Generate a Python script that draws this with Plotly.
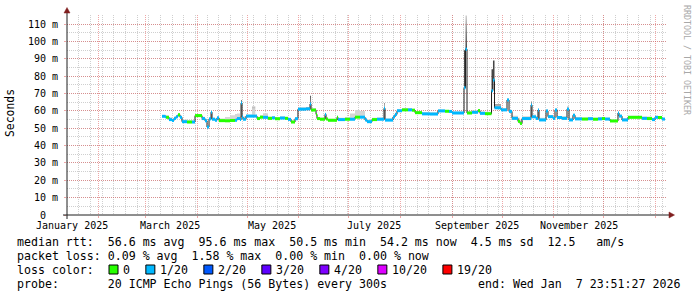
import plotly.graph_objects as go

# ---------------- data ----------------
times = [
    "2025-03-11 00:00", "2025-03-12 19:00", "2025-03-13 10:00", "2025-03-15 05:00", "2025-03-17 00:00",
    "2025-03-18 05:00", "2025-03-19 10:00", "2025-03-20 14:00", "2025-03-21 19:00", "2025-03-23 00:00",
    "2025-03-26 00:00", "2025-03-29 00:00", "2025-03-30 19:00", "2025-04-04 00:00", "2025-04-05 19:00",
    "2025-04-07 00:00", "2025-04-08 05:00", "2025-04-09 10:00", "2025-04-10 00:00", "2025-04-11 19:00",
    "2025-04-13 00:00", "2025-04-14 05:00", "2025-04-17 19:00", "2025-04-20 19:00", "2025-04-23 19:00",
    "2025-04-25 00:00", "2025-04-26 19:00", "2025-04-27 10:00", "2025-04-28 00:00", "2025-04-28 14:00",
    "2025-04-30 10:00", "2025-05-04 00:00", "2025-05-06 00:00", "2025-05-07 00:00", "2025-05-08 19:00",
    "2025-05-10 14:00", "2025-05-13 14:00", "2025-05-16 00:00", "2025-05-17 19:00", "2025-05-20 19:00",
    "2025-05-23 19:00", "2025-05-25 14:00", "2025-05-27 10:00", "2025-05-29 19:00", "2025-05-31 14:00",
    "2025-06-05 10:00", "2025-06-07 19:00", "2025-06-08 10:00", "2025-06-11 10:00", "2025-06-12 00:00",
    "2025-06-13 19:00", "2025-06-16 19:00", "2025-06-17 10:00", "2025-06-18 14:00", "2025-06-24 00:00",
    "2025-06-24 14:00", "2025-06-28 19:00", "2025-07-01 19:00", "2025-07-04 19:00", "2025-07-07 19:00",
    "2025-07-10 19:00", "2025-07-12 00:00", "2025-07-15 00:00", "2025-07-18 00:00", "2025-07-22 05:00",
    "2025-07-22 19:00", "2025-07-27 14:00", "2025-07-28 19:00", "2025-07-30 00:00", "2025-08-02 00:00",
    "2025-08-05 14:00", "2025-08-08 00:00", "2025-08-09 19:00", "2025-08-14 00:00", "2025-08-18 19:00",
    "2025-08-23 14:00", "2025-08-27 19:00", "2025-08-30 05:00", "2025-09-01 00:00", "2025-09-08 05:00",
    "2025-09-09 02:00", "2025-09-10 00:00", "2025-09-13 00:00", "2025-09-16 14:00", "2025-09-17 19:00",
    "2025-09-20 19:00", "2025-09-24 17:00", "2025-09-25 14:00", "2025-09-26 12:00", "2025-09-30 10:00",
    "2025-10-04 00:00", "2025-10-05 05:00", "2025-10-07 00:00", "2025-10-10 14:00", "2025-10-11 19:00",
    "2025-10-13 00:00", "2025-10-18 10:00", "2025-10-19 00:00", "2025-10-21 10:00", "2025-10-22 14:00",
    "2025-10-23 05:00", "2025-10-27 10:00", "2025-10-28 14:00", "2025-10-31 14:00", "2025-11-01 19:00",
    "2025-11-03 00:00", "2025-11-06 00:00", "2025-11-09 00:00", "2025-11-10 05:00", "2025-11-12 14:00",
    "2025-11-13 19:00", "2025-11-18 00:00", "2025-11-21 14:00", "2025-11-24 14:00", "2025-11-27 14:00",
    "2025-11-30 00:00", "2025-12-01 19:00", "2025-12-04 19:00", "2025-12-09 14:00", "2025-12-10 05:00",
    "2025-12-12 00:00", "2025-12-15 14:00", "2025-12-24 00:00", "2025-12-27 00:00", "2025-12-30 00:00",
    "2025-12-31 19:00", "2026-01-02 14:00", "2026-01-05 00:00",
]
median_ms = [
    56.9, 56.6, 56.3, 55.0, 54.5, 55.7, 56.7, 57.8, 56.3, 53.8,
    53.6, 53.6, 57.3, 55.6, 54.3, 50.7, 55.4, 59.3, 55.2, 54.6,
    56.0, 54.4, 54.3, 54.5, 54.6, 55.6, 55.0, 64.5, 56.5, 55.2,
    57.0, 57.0, 57.0, 55.6, 56.4, 56.3, 55.7, 56.0, 55.5, 55.9,
    55.7, 55.1, 53.6, 55.5, 61.0, 61.2, 64.0, 60.5, 58.0, 55.6,
    55.2, 58.0, 55.3, 54.6, 56.3, 55.0, 55.2, 55.2, 56.4, 56.4,
    54.8, 53.8, 55.0, 55.2, 61.5, 54.7, 56.5, 58.0, 60.1, 60.6,
    60.6, 60.4, 59.0, 58.3, 58.2, 60.0, 59.8, 59.7, 58.8, 73.3,
    95.6, 58.8, 59.2, 60.2, 58.6, 58.4, 71.7, 77.8, 61.8, 60.6,
    66.3, 59.7, 55.7, 54.0, 52.8, 55.6, 63.4, 56.6, 55.7, 60.5,
    54.8, 59.9, 56.7, 55.7, 60.5, 56.2, 55.7, 61.0, 54.8, 57.5,
    55.4, 55.3, 55.5, 55.2, 55.4, 55.6, 55.3, 54.2, 58.8, 57.0,
    54.8, 56.3, 55.7, 55.6, 55.0, 56.3, 56.2, 55.3,
]
loss_of_20 = [
    1, 1, 0, 1, 1, 1, 1, 0, 1, 1,
    0, 1, 0, 1, 1, 1, 1, 1, 1, 1,
    1, 0, 0, 0, 1, 1, 1, 1, 1, 1,
    1, 1, 1, 0, 0, 1, 0, 1, 0, 1,
    0, 1, 0, 1, 1, 1, 1, 0, 0, 0,
    0, 1, 0, 0, 0, 1, 0, 1, 0, 1,
    1, 1, 0, 1, 1, 1, 1, 1, 1, 0,
    1, 0, 0, 1, 1, 1, 0, 1, 1, 1,
    1, 0, 1, 0, 1, 0, 1, 1, 1, 1,
    1, 1, 1, 0, 0, 1, 1, 1, 1, 1,
    1, 1, 1, 1, 1, 1, 1, 1, 1, 1,
    1, 0, 1, 0, 1, 0, 1, 0, 1, 1,
    1, 0, 1, 0, 1, 1, 0, 1,
]
smoke_top_ms = [
    57.6, 57.8, 57.5, 56.3, 55.6, 56.8, 57.6, 58.6, 57.2, 55.0,
    54.6, 54.6, 58.2, 56.6, 55.5, 52.0, 56.5, 60.2, 56.2, 55.6,
    57.0, 55.6, 56.5, 57.5, 58.2, 58.5, 57.0, 66.3, 58.0, 57.0,
    58.0, 62.5, 58.0, 56.6, 57.5, 58.6, 56.8, 57.0, 56.5, 57.0,
    56.6, 56.0, 54.6, 56.5, 62.0, 62.2, 68.7, 61.5, 59.0, 56.5,
    56.2, 59.0, 56.2, 55.5, 57.2, 56.0, 56.5, 58.5, 60.5, 60.0,
    56.0, 55.0, 56.0, 56.2, 64.6, 55.6, 57.5, 59.0, 61.0, 61.5,
    61.5, 61.2, 60.0, 59.2, 59.2, 60.8, 60.6, 60.5, 59.6, 95.0,
    115.0, 60.0, 60.2, 61.0, 59.6, 59.5, 84.0, 89.0, 64.0, 61.6,
    67.0, 60.6, 57.2, 56.0, 55.0, 57.0, 65.5, 58.0, 57.0, 61.5,
    56.0, 61.0, 57.6, 57.0, 61.5, 57.0, 57.0, 62.5, 56.0, 58.5,
    56.5, 56.2, 56.5, 56.0, 56.5, 56.5, 56.2, 55.0, 59.5, 57.8,
    55.8, 57.2, 56.8, 56.8, 56.0, 57.2, 57.0, 56.0,
]
series_end = "2026-01-06 19:00"

x_start = "2025-01-12 23:51:27"
x_end = "2026-01-07 23:51:27"
y_max_ms = 115.3

y_tick_values = [0, 10, 20, 30, 40, 50, 60, 70, 80, 90, 100, 110]
y_tick_labels = ["0  ", "10 m", "20 m", "30 m", "40 m", "50 m", "60 m",
                 "70 m", "80 m", "90 m", "100 m", "110 m"]
month_grid = ["2025-02-01", "2025-03-01", "2025-04-01", "2025-05-01", "2025-06-01", "2025-07-01",
              "2025-08-01", "2025-09-01", "2025-10-01", "2025-11-01", "2025-12-01", "2026-01-01"]
month_labels = ["January 2025", "March 2025", "May 2025", "July 2025", "September 2025", "November 2025"]
month_label_at = ["2025-01-16", "2025-03-16", "2025-05-16", "2025-07-16", "2025-09-16", "2025-11-16"]

loss_levels = [0, 1, 2, 3, 4, 10, 19]
loss_labels = ["0", "1/20", "2/20", "3/20", "4/20", "10/20", "19/20"]
loss_colors = ["#26ff00", "#00b8ff", "#0059ff", "#5e00ff", "#7e00ff", "#dd00ff", "#ff0000"]

rtt_stats = ["56.6 ms avg", "95.6 ms max", "50.5 ms min", "54.2 ms now", "4.5 ms sd", "12.5   am/s"]
loss_stats = ["0.09 % avg", "1.58 % max", "0.00 % min", "0.00 % now"]
probe_text = "20 ICMP Echo Pings (56 Bytes) every 300s"
end_text = "end: Wed Jan  7 23:51:27 2026"

# ---------------- layout helpers ----------------
W, H = 697, 297
L, T, PW, PH = 67, 15, 600, 200
MONO = "DejaVu Sans Mono"
GRID = "rgba(140,140,140,0.42)"
MGRID = "rgba(222,80,80,0.5)"
AXIS = "#1f1f1f"
ARROW = "#801f1f"
DASH = "1px,1px"


def px(xp):
    return (xp - L) / PW


def py(yp):
    return (T + PH - yp) / PH


def nb(s):
    return s.replace(" ", "\u00a0")


fig = go.Figure()

x_all = times + [series_end]

# smoke (distribution of pings above the median)
fig.add_trace(go.Scatter(x=x_all, y=median_ms + [median_ms[-1]], mode="lines",
                         line=dict(width=0, shape="hv"), hoverinfo="skip"))
fig.add_trace(go.Scatter(
    x=x_all, y=smoke_top_ms + [smoke_top_ms[-1]], mode="lines",
    line=dict(width=0, shape="hv"), fill="tonexty", fillcolor="#d6d6d6",
    fillgradient=dict(type="vertical", start=50, stop=115,
                      colorscale=[[0, "#dcdcdc"], [0.17, "#d2d2d2"], [0.23, "#8a8a8a"],
                                  [0.31, "#454545"], [0.70, "#454545"], [0.85, "#858585"],
                                  [1, "#d0d0d0"]]),
    hoverinfo="skip"))

# thin dark median line (shows the vertical transitions)
fig.add_trace(go.Scatter(x=x_all, y=median_ms + [median_ms[-1]], mode="lines",
                         line=dict(color="#202020", width=1, shape="hv"), hoverinfo="skip"))

# median coloured by packet loss
ends = times[1:] + [series_end]
for lvl, col in zip(loss_levels, loss_colors):
    xs, ys = [], []
    for t0, t1, v, l in zip(times, ends, median_ms, loss_of_20):
        bucket = max(k for k in loss_levels if k <= l)
        if bucket == lvl:
            xs += [t0, t1, None]
            ys += [v, v, None]
    if xs:
        fig.add_trace(go.Scatter(x=xs, y=ys, mode="lines",
                                 line=dict(color=col, width=3), hoverinfo="skip"))

fig.update_xaxes(
    type="date", range=[x_start, x_end],
    tickmode="array", tickvals=month_grid, showticklabels=False,
    ticks="outside", ticklen=2, tickcolor=MGRID,
    showgrid=True, gridcolor=MGRID, gridwidth=1, griddash=DASH,
    minor=dict(tick0="2025-01-13", dtick=7 * 86400000, showgrid=True,
               gridcolor=GRID, griddash=DASH, ticks=""),
    showline=False, zeroline=False, fixedrange=True,
)
fig.update_yaxes(
    range=[0, y_max_ms],
    tickmode="array", tickvals=y_tick_values, ticktext=[nb(t) for t in y_tick_labels],
    tickfont=dict(family=MONO, size=10, color="#000000"),
    ticks="outside", ticklen=2, tickcolor=MGRID, ticklabelstandoff=4,
    showgrid=True, gridcolor=MGRID, gridwidth=1, griddash=DASH,
    minor=dict(dtick=5, tick0=0, showgrid=True, gridcolor=GRID, griddash=DASH),
    showline=False, zeroline=False, fixedrange=True,
)

shapes = [
    dict(type="line", xref="paper", yref="paper", x0=px(63), x1=px(671), y0=py(215), y1=py(215),
         line=dict(color=AXIS, width=1), layer="above"),
    dict(type="line", xref="paper", yref="paper", x0=px(67), x1=px(67), y0=py(219), y1=py(11),
         line=dict(color=AXIS, width=1), layer="above"),
    dict(type="path", xref="paper", yref="paper",
         path=f"M {px(669)},{py(212)} L {px(669)},{py(218)} L {px(674.5)},{py(215)} Z",
         fillcolor=ARROW, line=dict(color=ARROW, width=0.5), layer="above"),
    dict(type="path", xref="paper", yref="paper",
         path=f"M {px(64)},{py(13)} L {px(70)},{py(13)} L {px(67)},{py(7.5)} Z",
         fillcolor=ARROW, line=dict(color=ARROW, width=0.5), layer="above"),
]

annotations = []


def text(xp, yp, s, size=11.6, anchor="left", color="#000000", angle=0):
    annotations.append(dict(xref="paper", yref="paper", x=px(xp), y=py(yp), text=nb(s),
                            showarrow=False, xanchor=anchor, yanchor="middle", textangle=angle,
                            font=dict(family=MONO, size=size, color=color), borderpad=0))


# month labels (centred half a month after the month start, as rrdtool does)
for lab, at in zip(month_labels, month_label_at):
    annotations.append(dict(xref="x", yref="paper", x=at, y=py(225), text=nb(lab),
                            showarrow=False, xanchor="center", yanchor="middle",
                            font=dict(family=MONO, size=10, color="#000000"), borderpad=0))

text(10, 113, "Seconds", size=11.4, anchor="center", angle=-90)
text(687, 60, "RRDTOOL / TOBI OETIKER", size=8.3, anchor="center", color="#a8a8a8", angle=90)

CW = 7.05
text(16, 241.5, "median rtt:  " + "  ".join(rtt_stats))
text(16, 255.7, "packet loss: " + "  ".join(loss_stats))
text(16, 269.6, "loss color:")
bx = 109.0
for lab, col in zip(loss_labels, loss_colors):
    shapes.append(dict(type="rect", xref="paper", yref="paper",
                       x0=px(bx), x1=px(bx + 9), y0=py(265), y1=py(274),
                       fillcolor=col, line=dict(color="#000000", width=1), layer="above"))
    text(bx + 13.4, 269.6, lab)
    bx += 29.8 + len(lab) * CW
text(16, 283.6, "probe:       " + probe_text)
text(681, 283.6, end_text, anchor="right")

fig.update_layout(
    width=W, height=H, margin=dict(l=L, r=W - L - PW, t=T, b=H - T - PH, pad=0),
    paper_bgcolor="#ffffff", plot_bgcolor="#ffffff", showlegend=False,
    shapes=shapes, annotations=annotations,
)

fig.write_html("out.html")
